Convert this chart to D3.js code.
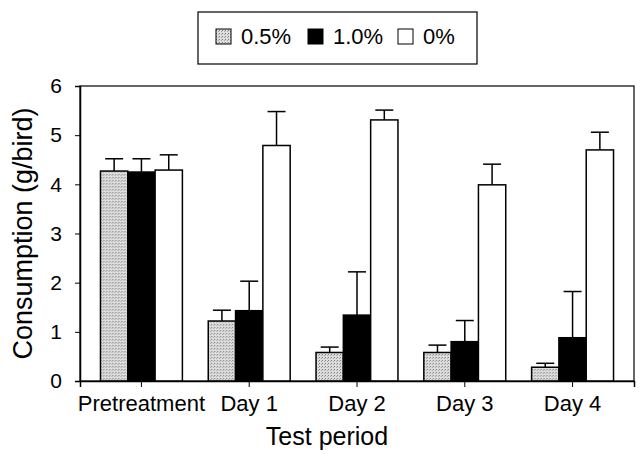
<!DOCTYPE html>
<html>
<head>
<meta charset="utf-8">
<script src="https://cdn.jsdelivr.net/npm/d3@7"></script>
<style>
  body { margin: 0; background: #fff; }
  text { font-family: "Liberation Sans", Arial, sans-serif; fill: #000; }
</style>
</head>
<body>
<script>
// data
var periods = ["Pretreatment", "Day 1", "Day 2", "Day 3", "Day 4"]
var series = ["0.5%", "1.0%", "0%"]
var mean05 = [4.27, 1.22, 0.58, 0.58, 0.28]
var mean10 = [4.25, 1.43, 1.34, 0.80, 0.88]
var mean00 = [4.29, 4.79, 5.31, 3.99, 4.70]
var upper05 = [4.52, 1.44, 0.69, 0.73, 0.36]
var upper10 = [4.52, 2.03, 2.22, 1.23, 1.82]
var upper00 = [4.60, 5.48, 5.51, 4.41, 5.06]
var yTicks = [0, 1, 2, 3, 4, 5, 6]

var drawChart = function(){

    var width = 640, height = 454
    var plotLeft = 80, plotRight = 634, plotTop = 86, plotBottom = 381

    var svg = d3.select("body").append("svg")
        .attr("width", width)
        .attr("height", height)

    // stipple pattern for the 0.5% bars
    var defs = svg.append("defs")
    var pat = defs.append("pattern")
        .attr("id", "stipple")
        .attr("width", 3).attr("height", 3)
        .attr("patternUnits", "userSpaceOnUse")
    pat.append("rect").attr("width", 3).attr("height", 3).attr("fill", "#dedede")
    pat.append("rect").attr("x", 0).attr("y", 0).attr("width", 1).attr("height", 1).attr("fill", "#7a7a7a")
    pat.append("rect").attr("x", 2).attr("y", 1).attr("width", 1).attr("height", 1).attr("fill", "#a0a0a0")

    var fills = {"0.5%": "url(#stipple)", "1.0%": "#000", "0%": "#fff"}

    var rows = periods.map((p, i) => {
        return {
            period: p,
            values: [
                {key: "0.5%", v: mean05[i], up: upper05[i]},
                {key: "1.0%", v: mean10[i], up: upper10[i]},
                {key: "0%", v: mean00[i], up: upper00[i]}
            ]
        }
    })

    var x0 = d3.scaleBand()
        .domain(periods)
        .range([plotLeft, plotRight])
        .paddingInner(0.24)
        .paddingOuter(0.19)

    var x1 = d3.scaleBand()
        .domain(series)
        .range([0, x0.bandwidth()])

    var y = d3.scaleLinear()
        .domain([0, 6])
        .range([plotBottom, plotTop])

    // frame
    svg.append("rect")
        .attr("x", plotLeft).attr("y", plotTop)
        .attr("width", plotRight - plotLeft).attr("height", plotBottom - plotTop)
        .attr("fill", "none").attr("stroke", "#000").attr("stroke-width", 1.2)

    var groups = svg.append("g").selectAll("g")
        .data(rows)
        .enter()
        .append("g")
        .attr("transform", (d) => {return "translate(" + x0(d.period) + ",0)"})

    // error bars (upper only)
    groups.selectAll("line.err")
        .data((d) => {return d.values})
        .enter()
        .append("line")
        .attr("class", "err")
        .attr("x1", (d) => {return x1(d.key) + x1.bandwidth() / 2})
        .attr("x2", (d) => {return x1(d.key) + x1.bandwidth() / 2})
        .attr("y1", (d) => {return y(d.v)})
        .attr("y2", (d) => {return y(d.up)})
        .attr("stroke", "#000").attr("stroke-width", 1.5)

    groups.selectAll("line.cap")
        .data((d) => {return d.values})
        .enter()
        .append("line")
        .attr("class", "cap")
        .attr("x1", (d) => {return x1(d.key) + x1.bandwidth() / 2 - 9})
        .attr("x2", (d) => {return x1(d.key) + x1.bandwidth() / 2 + 9})
        .attr("y1", (d) => {return y(d.up)})
        .attr("y2", (d) => {return y(d.up)})
        .attr("stroke", "#000").attr("stroke-width", 1.5)

    groups.selectAll("rect")
        .data((d) => {return d.values})
        .enter()
        .append("rect")
        .attr("x", (d) => {return x1(d.key)})
        .attr("y", (d) => {return y(d.v)})
        .attr("width", x1.bandwidth())
        .attr("height", (d) => {return y(0) - y(d.v)})
        .attr("fill", (d) => {return fills[d.key]})
        .attr("stroke", "#000").attr("stroke-width", 1.5)

    // axes
    var yAxis = svg.append("g")
        .attr("transform", "translate(" + plotLeft + ",0)")
        .call(d3.axisLeft(y).tickValues(yTicks).tickFormat(d3.format("d")).tickSize(5).tickPadding(13))
    yAxis.select(".domain").attr("stroke-width", 1.5)
    yAxis.selectAll("text").style("font-size", "21px").attr("fill", "#000")

    var xAxis = svg.append("g")
        .attr("transform", "translate(0," + plotBottom + ")")
        .call(d3.axisBottom(x0).tickSize(6).tickPadding(8))
    xAxis.select(".domain").attr("stroke-width", 1.5)
    xAxis.selectAll("text").style("font-size", "22px").attr("fill", "#000")

    // axis titles
    svg.append("text")
        .attr("transform", "translate(32," + ((plotTop + plotBottom) / 2) + ") rotate(-90)")
        .attr("text-anchor", "middle")
        .style("font-size", "27px")
        .text("Consumption (g/bird)")

    svg.append("text")
        .attr("x", (plotLeft + plotRight) / 2 - 30)
        .attr("y", 445)
        .attr("text-anchor", "middle")
        .style("font-size", "25px")
        .text("Test period")

    // legend
    var legend = svg.append("g")
    legend.append("rect")
        .attr("x", 198).attr("y", 12)
        .attr("width", 279).attr("height", 52)
        .attr("fill", "#fff").attr("stroke", "#000").attr("stroke-width", 1.2)

    var legendX = [216, 308, 398]
    var item = legend.selectAll("g.item")
        .data(series)
        .enter()
        .append("g")
        .attr("class", "item")
        .attr("transform", (d, i) => {return "translate(" + legendX[i] + ",0)"})

    item.append("rect")
        .attr("x", 0).attr("y", 29)
        .attr("width", 15).attr("height", 15)
        .attr("fill", (d) => {return fills[d]})
        .attr("stroke", "#000").attr("stroke-width", 1)

    item.append("text")
        .attr("x", 25).attr("y", 44)
        .style("font-size", "22px")
        .text((d) => {return d})
}

drawChart()
</script>
</body>
</html>
